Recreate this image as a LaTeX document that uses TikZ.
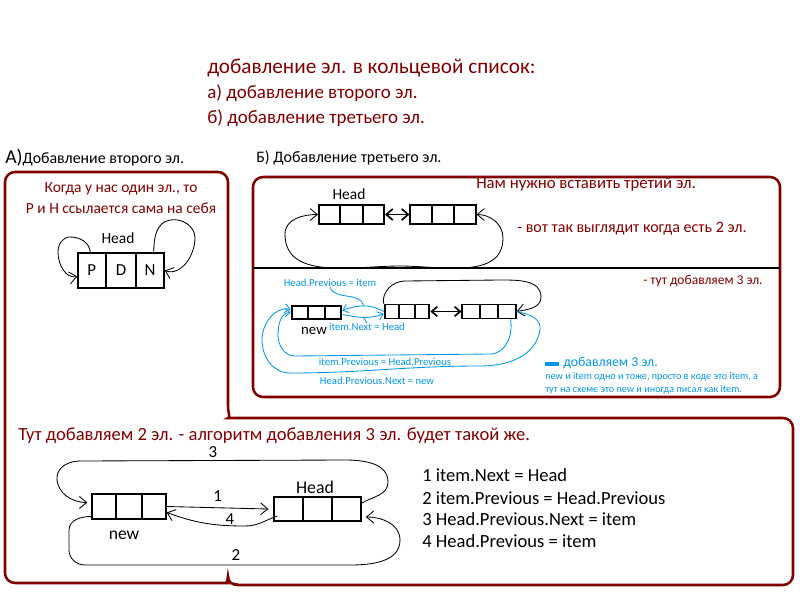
\documentclass[tikz,border=0pt]{standalone}
\usepackage{fontspec}
\setmainfont{Carlito}
\usetikzlibrary{positioning,arrows.meta,shapes.multipart}
\definecolor{darkred}{RGB}{128,0,0}
\definecolor{paintblue}{RGB}{0,150,230}
\newcommand{\threecells}[1]{\makebox[#1]{}\nodepart{two}\makebox[#1]{}\nodepart{three}\makebox[#1]{}}
\tikzset{
  frame/.style={draw=darkred, line width=1.8pt},
  elem/.style={rectangle split, rectangle split horizontal, rectangle split parts=3, draw, line width=1.4pt,
    inner xsep=0pt, inner ysep=0pt},
  link/.style={-{Straight Barb[length=1.8mm, width=3mm]}, line width=0.6pt},
  bluelink/.style={-{Straight Barb[length=1.3mm, width=2.2mm]}, line width=0.6pt, draw=paintblue},
  redtext/.style={text=darkred, anchor=west, inner sep=0pt},
  bluetext/.style={text=paintblue, inner sep=0pt, font=\fontsize{7.6}{9}\selectfont},
  numlabel/.style={inner sep=0pt, font=\fontsize{12}{14}\selectfont}
}

\begin{document}
\begin{tikzpicture}[x=0.25mm, y=-0.25mm, every node/.style={font=\fontsize{11}{13}\selectfont}]
  \useasboundingbox (0,0) rectangle (800,600);
  % headings
  \node[redtext, font=\fontsize{15.1}{18}\selectfont] (title) at (207,68) {добавление эл. в кольцевой список:};
  \node[redtext, font=\fontsize{13.5}{16}\selectfont] (suba) at (207,93) {а) добавление второго эл.};
  \node[redtext, font=\fontsize{13.5}{16}\selectfont] (subb) at (207,118) {б) добавление третьего эл.};
  \node[anchor=west, inner sep=0pt, font=\fontsize{11.3}{13}\selectfont] (capa) at (5,158) {{\fontsize{14}{16}\selectfont А)}Добавление второго эл.};
  \node[anchor=west, inner sep=0pt, font=\fontsize{11.4}{13}\selectfont] (capb) at (256,158) {Б) Добавление третьего эл.};

  % frames
  \draw[frame, rounded corners=2.5mm] (228,400) -- (228,172) -- (5,172) -- (5,583) -- (220,583)
    [sharp corners] .. controls (225,583) and (228,580) .. (228,576) .. controls (228,582) and (232,585) .. (238,585)
    [rounded corners=2.5mm] -- (793,585) -- (793,418) -- (238,418)
    [sharp corners] .. controls (231,418) and (228,414) .. (228,405) -- cycle;
  \draw[frame, rounded corners=2.5mm] (253,177) rectangle (780,397);

  % A: one element
  \node[redtext, anchor=center, align=center, font=\fontsize{11}{15}\selectfont] (alone) at (121,198)
    {Когда у нас один эл., то\\Р и Н ссылается сама на себя};
  \node (headA) at (118,238) {Head};
  \node[elem, minimum height=8.75mm, font=\fontsize{12}{14}\selectfont] (one) at (121,270.5)
    {\makebox[6.8mm]{P}\nodepart{two}\makebox[6.8mm]{D}\nodepart{three}\makebox[6.8mm]{N}};
  \draw[link] ([xshift=3.25mm]one.north west) to[out=95,in=0] (70,237) to[out=180,in=90] (58,252)
    to[out=-90,in=190] ([yshift=-1.5mm]one.west);
  \draw[link] ([xshift=-2.75mm]one.north east) to[out=90,in=190] (170,220) to[out=10,in=90] (195,238)
    to[out=-90,in=-20] (one.east);

  % B: two elements
  \node[redtext, font=\fontsize{11.9}{14}\selectfont] (need) at (476,184) {Нам нужно вставить третий эл.};
  \node (headB) at (349,194) {Head};
  \node[elem, minimum height=4.75mm] (a1) at (351.5,214.5) {\threecells{5.1mm}};
  \node[elem, minimum height=4.75mm] (a2) at (443,214.5) {\threecells{5.1mm}};
  \draw[{Straight Barb[length=1.6mm, width=2.8mm]}-{Straight Barb[length=1.6mm, width=2.8mm]}, line width=1.2pt] (a1.east) -- (a2.west);
  \draw[link, {Straight Barb[length=1.8mm, width=3mm]}-{Straight Barb[length=1.8mm, width=3mm]}]
    (a2.east) to[out=0,in=90] (503,238) to[out=-90,in=0] (400,266) to[out=180,in=-90] (285,234) to[out=90,in=180] (a1.west);
  \node[redtext, font=\fontsize{11.4}{13}\selectfont] (looks) at (517,229) {- вот так выглядит когда есть 2 эл.};
  \draw[line width=2pt] (253,268) -- (780,268);

  % B: adding the third
  \node[redtext, font=\fontsize{9.6}{11}\selectfont] (here) at (643,281) {- тут добавляем 3 эл.};
  \node[elem, minimum height=3.25mm] (b0) at (316.5,312.5) {\threecells{3.8mm}};
  \node[elem, minimum height=3.5mm] (b1) at (407,311.5) {\threecells{3.4mm}};
  \node[elem, minimum height=3.5mm] (b2) at (489,311.5) {\threecells{4.1mm}};
  \node[font=\fontsize{10.5}{12}\selectfont] (newB) at (314,331) {new};
  \draw[{Straight Barb[length=1.4mm, width=2.4mm]}-{Straight Barb[length=1.4mm, width=2.4mm]}, line width=1.2pt] (b1.east) -- (b2.west);
  \draw[link] (b1.north west) to[out=100,in=180] (405,281) -- (500,280) to[out=0,in=90] (541,297) to[out=-90,in=10] (b2.east);

  \node[bluetext] (hpi) at (330,283) {Head.Previous = item};
  \node[bluetext] (inh) at (367,327) {item.Next = Head};
  \node[bluetext] (iphp) at (385,362) {item.Previous = Head.Previous};
  \node[bluetext] (hpnn) at (377,381) {Head.Previous.Next = new};
  \draw[bluelink] (b1.west) to[out=150,in=20] coordinate[pos=0.5] (m1) ([yshift=0.5mm]b0.east);
  \draw[paintblue, line width=0.6pt] (hpi.south) to[out=-70,in=100] (m1);
  \draw[bluelink] ([yshift=-0.5mm]b0.east) to[out=-10,in=200] coordinate[pos=0.5] (m2) ([yshift=-0.6mm]b1.west);
  \draw[paintblue, line width=0.6pt] (inh.north) to[out=90,in=-80] (m2);
  \draw[bluelink] ([xshift=-1.5mm]b2.south east) to[out=-80,in=0] (490,354) -- (295,356)
    to[out=180,in=-90] (278,335) to[out=90,in=180] (b0.west);
  \draw[bluelink] (b2.east) to[out=-10,in=80] (540,330) to[out=-100,in=0] (480,366) to[out=180,in=0] (290,373)
    to[out=180,in=-90] (262,340) to[out=90,in=170] ([yshift=0.8mm]b0.west);

  % legend
  \draw[paintblue, line width=2.2pt] (545,364) -- (559,364);
  \node[bluetext, anchor=west, font=\fontsize{9.8}{11}\selectfont] (legend) at (563,363) {добавляем 3 эл.};
  \node[bluetext, anchor=west, font=\fontsize{7.25}{8.5}\selectfont] (remark1) at (545,377) {new и item одно и тоже, просто в коде это item, а};
  \node[bluetext, anchor=west, font=\fontsize{7.25}{8.5}\selectfont] (remark2) at (545,390) {тут на схеме это new и иногда писал как item.};

  % bottom: algorithm
  \node[redtext, font=\fontsize{13.2}{15}\selectfont] (algo) at (18,436) {Тут добавляем 2 эл. - алгоритм добавления 3 эл. будет такой же.};
  \node[elem, minimum height=6.25mm] (c0) at (129,506.5) {\threecells{5.8mm}};
  \node[elem, minimum height=6mm] (c1) at (317.5,509) {\threecells{6.9mm}};
  \node[font=\fontsize{12.5}{14}\selectfont] (newC) at (124,535) {new};
  \node[font=\fontsize{12.7}{14}\selectfont] (headC) at (315,487) {Head};
  \draw[link] (c0.east) -- node[numlabel, above=4pt] {1} ([xshift=-1.2mm]c1.west);
  \draw[link] ([xshift=1mm,yshift=1.5mm]c1.south west) to[out=200,in=0] (245,526)
    to[out=180,in=-20] ([yshift=-1.5mm]c0.east);
  \node[numlabel] (n4) at (230,519) {4};
  \draw[link] ([yshift=1.5mm]c1.east) to[out=30,in=-90] (388,482) to[out=90,in=0] (345,460) -- (80,461)
    to[out=180,in=90] (57,478) to[out=-90,in=180] ([xshift=-1mm,yshift=1mm]c0.west);
  \node[numlabel] (n3) at (213,452) {3};
  \draw[link] ([yshift=-2.5mm]c0.west) to[out=180,in=90] (69,530) -- (69,550) to[out=-90,in=180] (85,565)
    -- (350,565) to[out=0,in=-90] (400,540) to[out=90,in=0] ([xshift=1mm,yshift=-2mm]c1.east);
  \node[numlabel] (n2) at (236,555) {2};

  \node[anchor=west, inner sep=0pt, font=\fontsize{13.2}{15}\selectfont] (step1) at (422,475) {1 item.Next = Head};
  \node[anchor=west, inner sep=0pt, font=\fontsize{13.2}{15}\selectfont] (step2) at (422,498) {2 item.Previous = Head.Previous};
  \node[anchor=west, inner sep=0pt, font=\fontsize{13.2}{15}\selectfont] (step3) at (422,519) {3 Head.Previous.Next = item};
  \node[anchor=west, inner sep=0pt, font=\fontsize{13.2}{15}\selectfont] (step4) at (422,541) {4 Head.Previous = item};
\end{tikzpicture}
\end{document}
